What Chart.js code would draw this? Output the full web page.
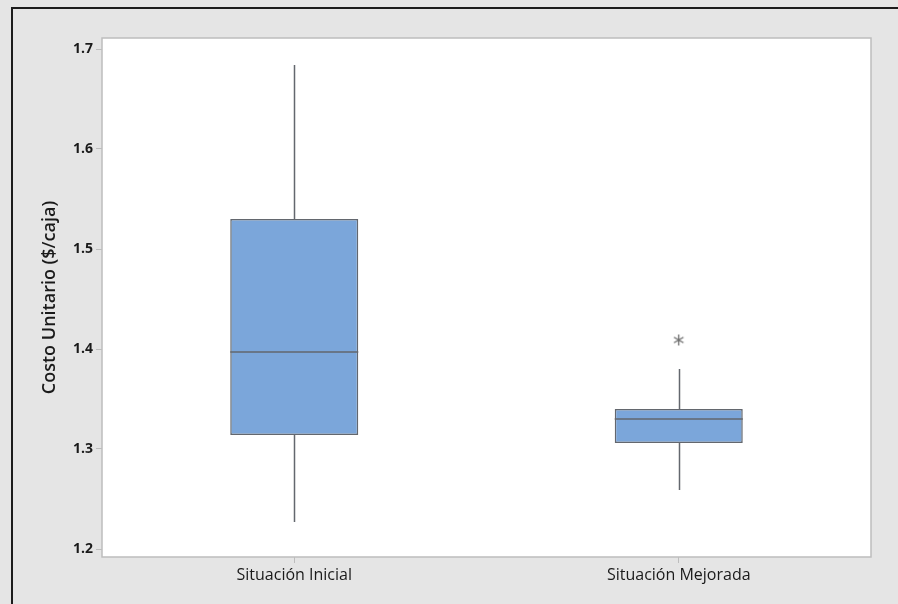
<!DOCTYPE html>
<html>
<head>
<meta charset="utf-8">
<script src="https://cdn.jsdelivr.net/npm/chart.js@4/dist/chart.umd.min.js"></script>
<style>
  html, body { margin: 0; padding: 0; background: #e5e5e5; overflow: hidden; width: 898px; height: 604px; }
  canvas { display: block; }
</style>
</head>
<body>
<canvas id="c" width="898" height="604"></canvas>
<script>
// Unit cost per box, before and after the improvement
const categories = ['Situación Inicial', 'Situación Mejorada'];
const whiskerLow  = [1.227, 1.259];
const quartile1   = [1.314, 1.306];
const medians     = [1.397, 1.330];
const quartile3   = [1.530, 1.340];
const whiskerHigh = [1.684, 1.380];
const outliers    = [null, 1.409];
const yTicks      = [1.2, 1.3, 1.4, 1.5, 1.6, 1.7];

const boxFill = '#7ba6da';
const lineGrey = '#63676e';
const frameGrey = '#bdbdbd';

// Asterisk marker for outliers
function asterisk(size, color) {
  const c = document.createElement('canvas');
  c.width = size; c.height = size;
  const g = c.getContext('2d');
  const r = size / 2 - 1, m = size / 2;
  g.strokeStyle = color; g.lineWidth = 1.3;
  g.beginPath();
  for (let k = 0; k < 3; k++) {
    const a = Math.PI / 2 + k * Math.PI / 3;
    g.moveTo(m + r * Math.cos(a), m + r * Math.sin(a));
    g.lineTo(m - r * Math.cos(a), m - r * Math.sin(a));
  }
  g.stroke();
  return c;
}

// Grey page, dark outer edge on the top and left, white plotting area with a light frame
const plotFrame = {
  id: 'plotFrame',
  beforeDraw(chart) {
    const { ctx, width, height } = chart;
    ctx.save();
    ctx.fillStyle = '#e5e5e5';
    ctx.fillRect(0, 0, width, height);
    ctx.fillStyle = '#1c1c1c';
    ctx.fillRect(11, 7, width - 11, 2);
    ctx.fillRect(11, 7, 2, height - 7);
    ctx.restore();
  },
  beforeDatasetsDraw(chart) {
    const { ctx, chartArea: a } = chart;
    ctx.save();
    ctx.fillStyle = '#ffffff';
    ctx.fillRect(a.left, a.top, a.right - a.left, a.bottom - a.top);
    ctx.restore();
  },
  afterDraw(chart) {
    const { ctx, chartArea: a } = chart;
    ctx.save();
    ctx.strokeStyle = frameGrey;
    ctx.lineWidth = 1.5;
    ctx.strokeRect(a.left, a.top, a.right - a.left, a.bottom - a.top);
    ctx.restore();
  }
};

// Whiskers and median lines, positioned from the bar elements and the y scale
const boxParts = {
  id: 'boxParts',
  afterDatasetsDraw(chart) {
    const { ctx } = chart;
    const y = chart.scales.y;
    const meta = chart.getDatasetMeta(0);
    ctx.save();
    ctx.strokeStyle = lineGrey;
    ctx.lineWidth = 1.5;
    meta.data.forEach((bar, i) => {
      const x = Math.round(bar.x) + 0.5;
      const half = bar.width / 2;
      ctx.beginPath();
      ctx.moveTo(x, y.getPixelForValue(quartile3[i]));
      ctx.lineTo(x, y.getPixelForValue(whiskerHigh[i]));
      ctx.moveTo(x, y.getPixelForValue(quartile1[i]));
      ctx.lineTo(x, y.getPixelForValue(whiskerLow[i]));
      const ym = y.getPixelForValue(medians[i]);
      ctx.moveTo(bar.x - half, ym);
      ctx.lineTo(bar.x + half, ym);
      ctx.stroke();
    });
    ctx.restore();
  }
};

new Chart(document.getElementById('c'), {
  type: 'bar',
  data: {
    labels: categories,
    datasets: [
      {
        label: 'Caja',
        data: quartile1.map((q, i) => [q, quartile3[i]]),
        backgroundColor: boxFill,
        borderColor: lineGrey,
        borderWidth: 1.5,
        borderSkipped: false,
        categoryPercentage: 1,
        barPercentage: 0.333,
        order: 2
      },
      {
        type: 'line',
        label: 'Atípico',
        data: outliers,
        showLine: false,
        pointStyle: asterisk(13, '#6b6b6b'),
        pointRadius: 6,
        order: 1
      }
    ]
  },
  options: {
    responsive: false,
    animation: false,
    devicePixelRatio: 1,
    layout: { padding: { left: 0, top: 38, right: 27, bottom: 0 } },
    plugins: { legend: { display: false }, tooltip: { enabled: false } },
    scales: {
      x: {
        grid: { drawOnChartArea: false, tickLength: 6, tickColor: frameGrey, offset: false },
        border: { display: false },
        ticks: { color: '#1a1a1a', padding: 3, font: { family: 'Open Sans', size: 16 } },
        afterFit(s) { s.height = 47; }
      },
      y: {
        min: 1.192,
        max: 1.711,
        afterBuildTicks(s) { s.ticks = yTicks.map(v => ({ value: v })); },
        grid: { drawOnChartArea: false, tickLength: 6, tickColor: frameGrey },
        border: { display: false },
        ticks: {
          color: '#1a1a1a', padding: 3,
          font: { family: 'Open Sans', size: 14, weight: 'bold' },
          callback: v => v.toFixed(1)
        },
        title: {
          display: true,
          text: 'Costo Unitario ($/caja)',
          color: '#1a1a1a',
          padding: { top: 39, bottom: 0 },
          font: { family: 'Open Sans', size: 18, weight: '600' }
        },
        afterFit(s) { s.width = 102; }
      }
    }
  },
  plugins: [plotFrame, boxParts]
});
</script>
</body>
</html>
